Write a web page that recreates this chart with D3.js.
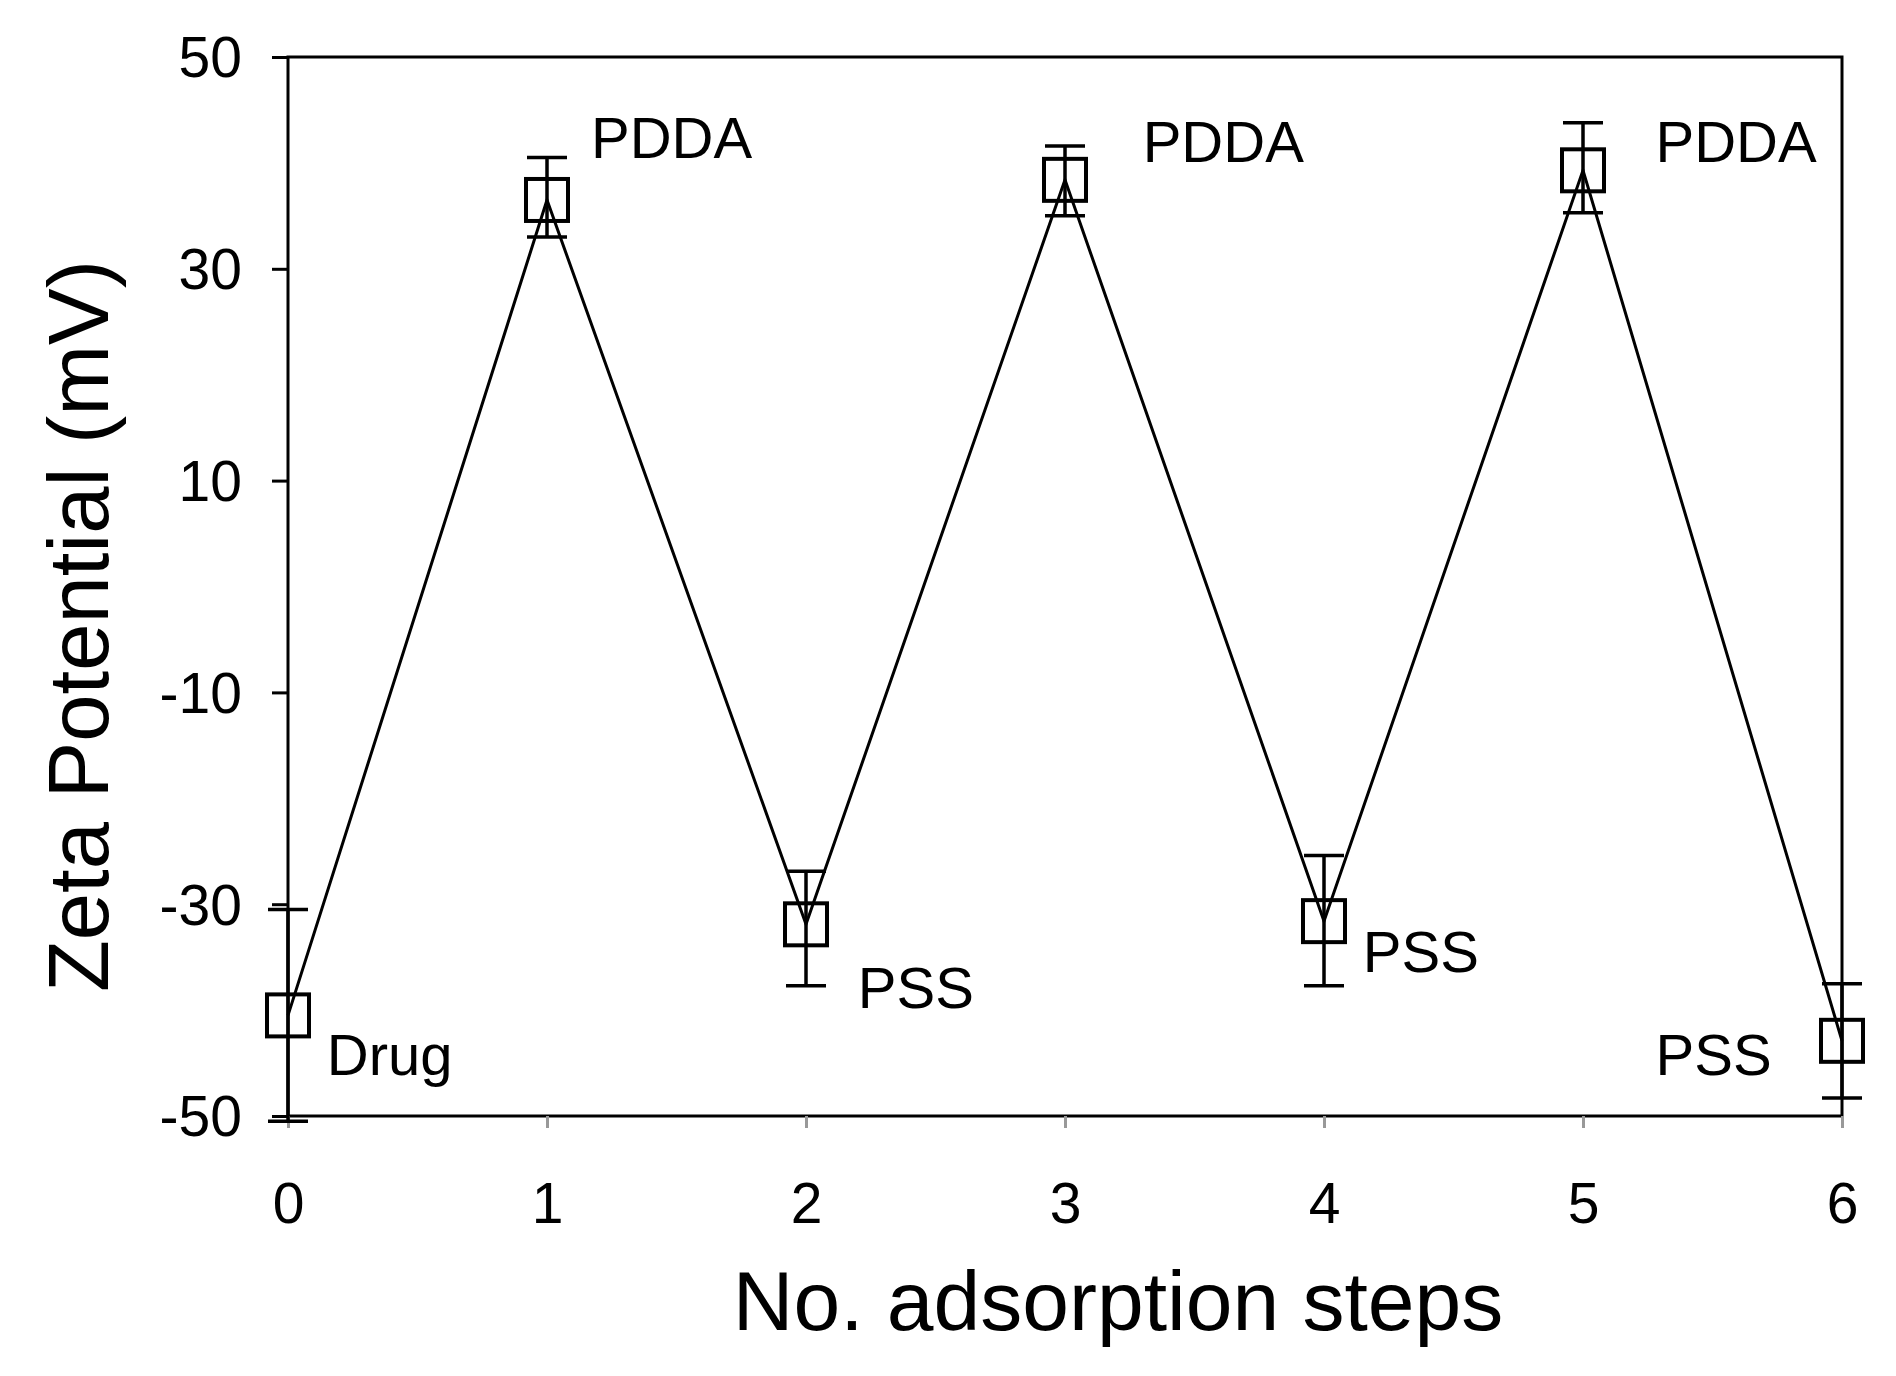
<!DOCTYPE html>
<html><head><meta charset="utf-8">
<script src="https://cdn.jsdelivr.net/npm/d3@7"></script>
<style>body{margin:0;background:#fff}text{font-family:"Liberation Sans",Arial,sans-serif;fill:#000}</style>
</head><body><div id="chart"></div>
<script>
const steps = [0, 1, 2, 3, 4, 5, 6];
const zeta = [-40.5, 36.5, -31.9, 38.4, -31.6, 39.3, -42.9];
const errUp = [10, 4, 5, 3.2, 6.2, 4.5, 5.4];
const errDown = [10, 3.5, 5.8, 3.4, 6.1, 4, 5.4];
const yTicks = [50, 30, 10, -10, -30, -50];
const labelText = ['Drug', 'PDDA', 'PSS', 'PDDA', 'PSS', 'PDDA', 'PSS'];
const labelX = [0.15, 1.17, 2.2, 3.3, 4.15, 5.28, 5.28];
const labelY = [-46.1, 40.5, -39.8, 40.1, -36.4, 40.1, -46.1];

const W = 1896, H = 1376;
const m = {left: 288, right: 54, top: 57, bottom: 260};
const svg = d3.select('#chart').append('svg').attr('width', W).attr('height', H);
const x = d3.scaleLinear().domain([0, 6]).range([m.left, W - m.right]);
const y = d3.scaleLinear().domain([-50, 50]).range([H - m.bottom, m.top]);

// frame
svg.append('rect').attr('x', x(0)).attr('y', y(50))
  .attr('width', x(6) - x(0)).attr('height', y(-50) - y(50))
  .attr('fill', 'none').attr('stroke', '#000').attr('stroke-width', 3);

// y axis
const ya = svg.append('g').attr('transform', `translate(${x(0)},0)`)
  .call(d3.axisLeft(y).tickValues(yTicks).tickSize(16).tickPadding(30).tickFormat(d3.format('d')));
ya.select('.domain').remove();
ya.selectAll('line').attr('stroke', '#000').attr('stroke-width', 3);
ya.selectAll('text').attr('font-size', 57).attr('dy', '0.35em').text(d => String(d));

// x axis
const xa = svg.append('g').attr('transform', `translate(0,${y(-50)})`)
  .call(d3.axisBottom(x).tickValues(steps).tickSize(12).tickPadding(55).tickFormat(d3.format('d')));
xa.select('.domain').remove();
xa.selectAll('line').attr('stroke', '#999').attr('stroke-width', 3);
xa.selectAll('text').attr('font-size', 57);

// line
svg.append('path').datum(steps)
  .attr('d', d3.line().x(i => x(i)).y(i => y(zeta[i])))
  .attr('fill', 'none').attr('stroke', '#000').attr('stroke-width', 3);

// error bars
const eb = svg.append('g').attr('stroke', '#000').attr('stroke-width', 3.5);
steps.forEach(i => {
  eb.append('line').attr('x1', x(i)).attr('x2', x(i))
    .attr('y1', y(zeta[i] + errUp[i])).attr('y2', y(zeta[i] - errDown[i]));
  [zeta[i] + errUp[i], zeta[i] - errDown[i]].forEach(v => {
    eb.append('line').attr('x1', x(i) - 20).attr('x2', x(i) + 20)
      .attr('y1', y(v)).attr('y2', y(v));
  });
});

// markers
svg.append('g').selectAll('rect').data(steps).join('rect')
  .attr('x', i => x(i) - 21).attr('y', i => y(zeta[i]) - 21)
  .attr('width', 42).attr('height', 42)
  .attr('fill', 'none').attr('stroke', '#000').attr('stroke-width', 4);

// annotations
svg.append('g').selectAll('text').data(steps).join('text')
  .attr('x', i => x(labelX[i])).attr('y', i => y(labelY[i]))
  .attr('font-size', 58)
  .text(i => labelText[i]);

// titles
svg.append('text').attr('x', 1118).attr('y', 1330).attr('text-anchor', 'middle')
  .attr('font-size', 84).text('No. adsorption steps');
svg.append('text').attr('transform', 'translate(108,626) rotate(-90)')
  .attr('text-anchor', 'middle').attr('font-size', 85).text('Zeta Potential (mV)');
</script></body></html>
